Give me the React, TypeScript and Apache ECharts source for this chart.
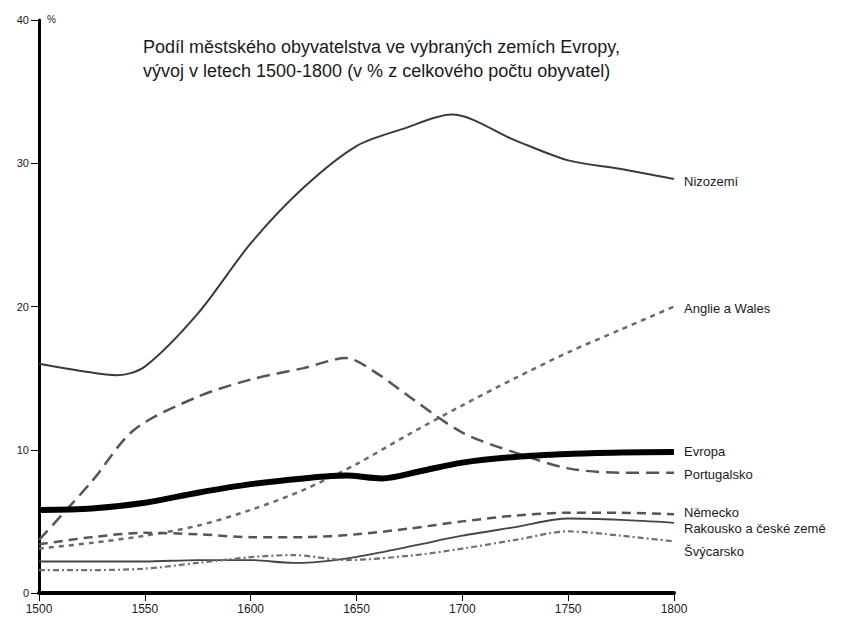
import React, { useEffect, useRef } from "react";
import * as echarts from "echarts";

const titleLines = [
  "Podíl městského obyvatelstva ve vybraných zemích Evropy,",
  "vývoj v letech 1500-1800 (v % z celkového počtu obyvatel)",
];

const nizozemiYears = [1500, 1520, 1537, 1550, 1575, 1600, 1625, 1650, 1672, 1695, 1725, 1750, 1775, 1800];
const nizozemiValues = [16.0, 15.5, 15.2, 15.8, 19.5, 24.4, 28.3, 31.2, 32.4, 33.4, 31.6, 30.2, 29.6, 28.9];

const anglieYears = [1500, 1525, 1550, 1575, 1600, 1625, 1650, 1675, 1700, 1725, 1750, 1775, 1800];
const anglieValues = [3.1, 3.5, 4.0, 4.7, 5.8, 7.2, 9.0, 11.1, 13.1, 15.0, 16.8, 18.4, 20.0];

const evropaYears = [1500, 1525, 1550, 1575, 1600, 1625, 1645, 1662, 1680, 1700, 1725, 1750, 1775, 1800];
const evropaValues = [5.8, 5.9, 6.3, 7.0, 7.6, 8.0, 8.2, 8.0, 8.5, 9.1, 9.5, 9.7, 9.8, 9.85];

const portugalskoYears = [1500, 1525, 1545, 1575, 1600, 1625, 1645, 1660, 1675, 1700, 1725, 1750, 1775, 1800];
const portugalskoValues = [3.7, 7.8, 11.4, 13.7, 14.9, 15.7, 16.4, 15.3, 13.7, 11.2, 9.8, 8.7, 8.4, 8.4];

const nemeckoYears = [1500, 1525, 1550, 1575, 1600, 1625, 1650, 1675, 1700, 1725, 1750, 1775, 1800];
const nemeckoValues = [3.4, 3.9, 4.2, 4.1, 3.9, 3.9, 4.1, 4.5, 5.0, 5.4, 5.6, 5.6, 5.5];

const rakouskoYears = [1500, 1525, 1550, 1575, 1600, 1620, 1640, 1660, 1680, 1700, 1725, 1750, 1775, 1800];
const rakouskoValues = [2.2, 2.2, 2.2, 2.3, 2.3, 2.1, 2.3, 2.8, 3.4, 4.0, 4.6, 5.2, 5.1, 4.9];

const svycarskoYears = [1500, 1525, 1550, 1575, 1600, 1620, 1645, 1675, 1700, 1725, 1750, 1775, 1800];
const svycarskoValues = [1.6, 1.6, 1.7, 2.1, 2.5, 2.65, 2.3, 2.6, 3.1, 3.7, 4.3, 4.0, 3.6];

const yTicks = [0, 10, 20, 30, 40];
const xTicks = [1500, 1550, 1600, 1650, 1700, 1750, 1800];

const pairs = (xs: number[], ys: number[]) => xs.map((x, i) => [x, ys[i]]);

export default function App() {
  const ref = useRef<HTMLDivElement>(null);
  useEffect(() => {
    document.body.style.margin = "0";
    if (!ref.current) return;
    const chart = echarts.init(ref.current, null, { renderer: "svg" });
    const font = "Liberation Sans, Arial, sans-serif";
    const mkSeries = (
      name: string,
      xs: number[],
      ys: number[],
      color: string,
      width: number,
      type: any,
      dy: number,
      z = 2
    ) => ({
      name,
      type: "line",
      data: pairs(xs, ys),
      smooth: 0.3,
      showSymbol: false,
      symbol: "none",
      z,
      lineStyle: { color, width, type, cap: "butt" },
      endLabel: {
        show: true,
        formatter: name,
        color: "#1a1a1a",
        fontSize: 13,
        fontFamily: font,
        distance: 10,
        offset: [0, dy],
      },
      emphasis: { disabled: true },
    });
    chart.setOption({
      animation: false,
      backgroundColor: "#ffffff",
      grid: { left: 39, right: 168, top: 20, bottom: 25, containLabel: false },
      graphic: [
        {
          type: "text",
          left: 143,
          top: 35,
          style: {
            text: titleLines.join("\n"),
            fontSize: 18,
            lineHeight: 24,
            fontFamily: font,
            fill: "#1a1a1a",
          },
        },
        {
          type: "text",
          left: 47,
          top: 14,
          style: { text: "%", fontSize: 10, fontFamily: font, fill: "#222" },
        },
      ],
      xAxis: {
        type: "value",
        min: xTicks[0],
        max: xTicks[xTicks.length - 1],
        interval: 50,
        splitLine: { show: false },
        axisLine: { show: true, lineStyle: { color: "#000", width: 4 } },
        axisTick: { show: true, length: 8, lineStyle: { color: "#000", width: 1 } },
        axisLabel: {
          color: "#1a1a1a",
          fontSize: 12,
          fontFamily: font,
          margin: 10,
          formatter: (v: number) => String(v),
        },
      },
      yAxis: {
        type: "value",
        min: yTicks[0],
        max: yTicks[yTicks.length - 1],
        interval: 10,
        splitLine: { show: false },
        axisLine: { show: true, lineStyle: { color: "#000", width: 3 } },
        axisTick: { show: true, length: 8, lineStyle: { color: "#000", width: 1 } },
        axisLabel: { color: "#1a1a1a", fontSize: 11, fontFamily: font, margin: 10 },
      },
      series: [
        mkSeries("Nizozemí", nizozemiYears, nizozemiValues, "#3a3a3a", 2, "solid", 2),
        mkSeries("Anglie a Wales", anglieYears, anglieValues, "#6a6a6a", 2.5, [5, 5], 2),
        mkSeries("Portugalsko", portugalskoYears, portugalskoValues, "#555555", 2.5, [13, 7], 2),
        mkSeries("Německo", nemeckoYears, nemeckoValues, "#555555", 2.5, [9, 6], -2),
        mkSeries("Rakousko a české země", rakouskoYears, rakouskoValues, "#444444", 1.8, "solid", 6),
        mkSeries("Švýcarsko", svycarskoYears, svycarskoValues, "#707070", 2.2, [6, 3, 2, 3], 10),
        mkSeries("Evropa", evropaYears, evropaValues, "#000000", 6, "solid", 0, 5),
      ],
    });
    return () => chart.dispose();
  }, []);
  return <div ref={ref} style={{ width: 842, height: 618 }} />;
}
